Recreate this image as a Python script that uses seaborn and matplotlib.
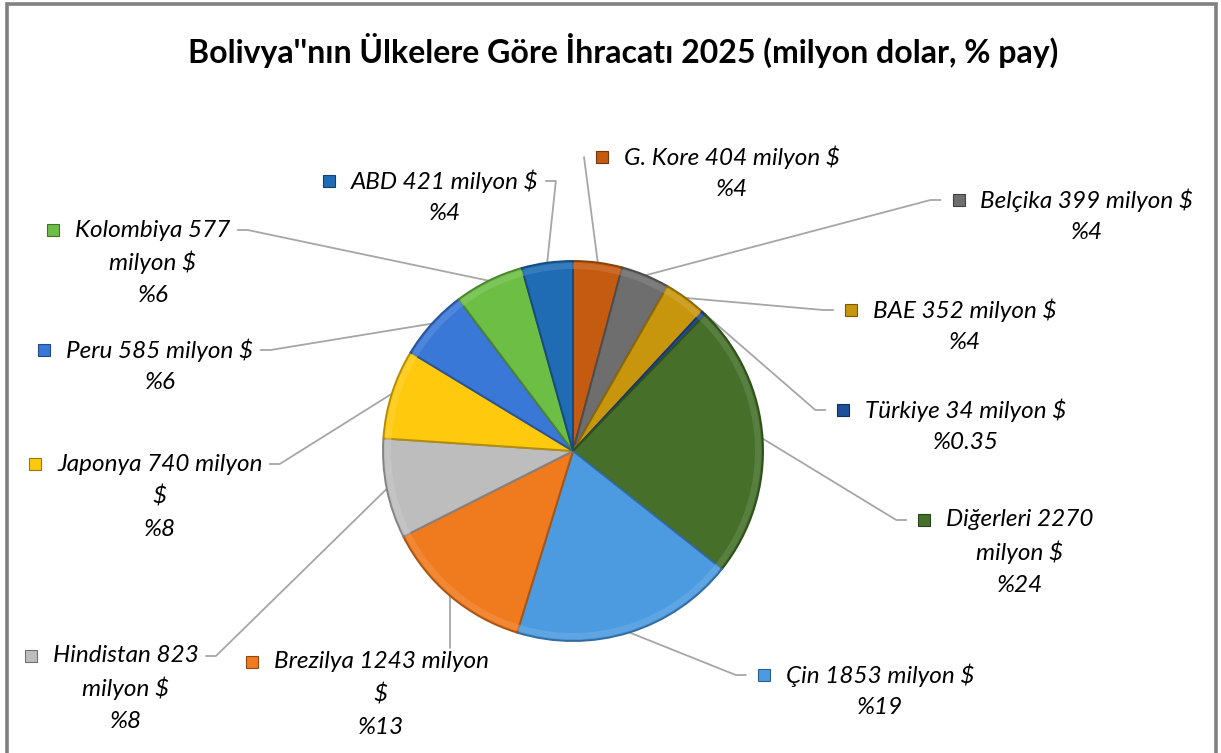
import textwrap
import numpy as np
import matplotlib
matplotlib.use("Agg")
import matplotlib.pyplot as plt
import matplotlib.patches as mpatches
from matplotlib.colors import to_rgb
import seaborn as sns

# veriler (milyon $) - tepeden başlayıp saat yönünde
ulkeler = ["G. Kore", "Belçika", "BAE", "Türkiye", "Diğerleri", "Çin",
           "Brezilya", "Hindistan", "Japonya", "Peru", "Kolombiya", "ABD"]
degerler = [404, 399, 352, 34, 2270, 1853, 1243, 823, 740, 585, 577, 421]
paylar = ["4", "4", "4", "0.35", "24", "19", "13", "8", "8", "6", "6", "4"]
renkler = ["#C55A11", "#6E6E6E", "#C8960C", "#1F4E9A", "#46702A", "#4C9BE0",
           "#F07A1E", "#BDBDBD", "#FFC90E", "#3A78D8", "#6DBE45", "#1F6CB5"]

# etiket yerleşimi (piksel, üstten): metin merkezi x, ilk satır y, satır kırma
etiket_x = [732, 1087, 965, 966, 1020, 880, 381, 126, 160, 160, 153, 445]
etiket_y = [157, 200, 310, 410, 520, 675, 662, 656, 464, 350, 230, 181]
sarma = [30, 30, 30, 30, 14, 30, 20, 13, 18, 30, 13, 30]

baslik = "Bolivya''nın Ülkelere Göre İhracatı 2025 (milyon dolar, % pay)"

sns.set_theme(style="white")
plt.rcParams["font.family"] = ["Lato", "DejaVu Sans"]


def koyu(c, k=0.7):
    return np.array(to_rgb(c)) * k


def acik(c, k=0.3):
    return np.array(to_rgb(c)) * (1 - k) + k


W, H = 1221, 753
fig = plt.figure(figsize=(W / 100, H / 100), dpi=100)
ax = fig.add_axes([0, 0, 1, 1])

# pasta
cx, cy, r = 573, H - 451, 190
dilimler, _ = ax.pie(degerler, colors=renkler, startangle=90, counterclock=False,
                     center=(cx, cy), radius=r,
                     wedgeprops=dict(linewidth=1.4))
for w, c in zip(dilimler, renkler):
    w.set_edgecolor(koyu(c))
# kabartma etkisi: dış kenarda hafif açık bir şerit
kenar, _ = ax.pie(degerler, colors=[acik(c, 0.18) for c in renkler], startangle=90,
                  counterclock=False, center=(cx, cy), radius=r - 2,
                  wedgeprops=dict(width=6, linewidth=0))
for w in kenar:
    w.set_alpha(0.6)

ax.set_xlim(0, W)
ax.set_ylim(0, H)
ax.set_aspect("equal")
ax.axis("off")

# çerçeve
ax.add_patch(mpatches.Rectangle((6.5, -20), 1216 - 6.5, H - 3.5 + 20, fill=False,
                                ec="#808080", lw=2.6, clip_on=False))

# başlık
ax.text(623, H - 50, baslik, ha="center", va="center", fontsize=23,
        fontweight="bold", color="black")

# etiket metinleri
satir = 32.5
ilk_satirlar = []
for i, ad in enumerate(ulkeler):
    metin = f"{ad} {degerler[i]} milyon $"
    satirlar = textwrap.wrap(metin, sarma[i]) + ["%" + paylar[i]]
    objeler = []
    for k, s in enumerate(satirlar):
        t = ax.text(etiket_x[i], H - etiket_y[i] - k * satir, s, ha="center",
                    va="center", fontsize=17.5, style="italic", color="black")
        objeler.append(t)
    ilk_satirlar.append(objeler)

fig.canvas.draw()
rend = fig.canvas.get_renderer()

for i, objeler in enumerate(ilk_satirlar):
    bb = objeler[0].get_window_extent(rend)
    y1 = H - etiket_y[i]
    # renkli kare
    mx = bb.x0 - 16 - 12
    ax.add_patch(mpatches.Rectangle((mx, y1 - 6), 12, 12, fc=renkler[i],
                                    ec=koyu(renkler[i], 0.6), lw=0.8))
    # pasta üzerindeki nokta
    w = dilimler[i]
    aci = np.deg2rad((w.theta1 + w.theta2) / 2)
    px, py = cx + r * np.cos(aci), cy + r * np.sin(aci)
    bb_all = [o.get_window_extent(rend) for o in objeler]
    if bb.x0 < px < bb.x1:
        ust = max(b.y1 for b in bb_all)
        xs, ys = [px, px], [ust + 4, py]
    elif bb.x1 < px:
        ax0 = bb.x1 + 7
        xs, ys = [ax0, ax0 + 10, px], [y1, y1, py]
    else:
        ax0 = mx - 12
        if ax0 < px:
            xs, ys = [ax0, px], [y1, py]
        else:
            xs, ys = [ax0, ax0 - 10, px], [y1, y1, py]
    ax.plot(xs, ys, color="#A6A6A6", lw=1.3, zorder=0)

plt.savefig("out.png", dpi=100)
